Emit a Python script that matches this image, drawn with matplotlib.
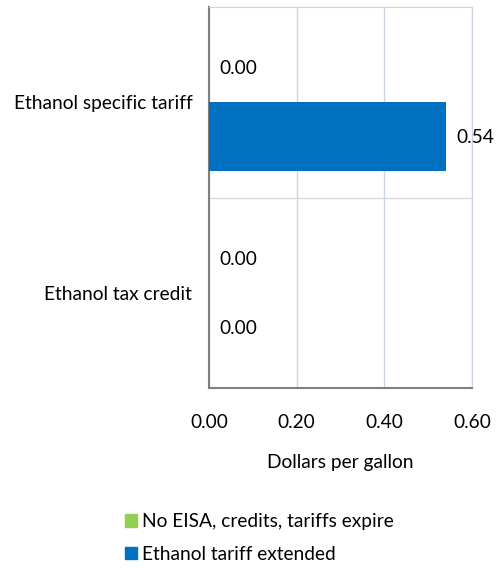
import matplotlib
matplotlib.use("Agg")
import matplotlib.pyplot as plt
import numpy as np
from matplotlib.patches import Patch

categories = ["Ethanol specific tariff", "Ethanol tax credit"]
series_names = ["No EISA, credits, tariffs expire", "Ethanol tariff extended"]
no_eisa = [0.00, 0.00]
tariff_ext = [0.54, 0.00]
xticks = [0.00, 0.20, 0.40, 0.60]
colors = ["#92D050", "#0070C0"]

plt.rcParams['font.family'] = ['Lato', 'DejaVu Sans']
FS = 13.8

fig = plt.figure(figsize=(4.96, 5.68), dpi=100)
ax = fig.add_axes([209/496, 1-388/568, (472-209)/496, (388-7)/568])

y = np.arange(len(categories))
h = 0.363
for i, (vals, c) in enumerate(zip([no_eisa, tariff_ext], colors)):
    pos = y + (i - 0.5) * h
    ax.barh(pos, vals, height=h, color=c, zorder=3)
    for p, v in zip(pos, vals):
        ax.annotate(f"{v:.2f}", (v, p), xytext=(10 if v == 0 else 11, -1),
                    textcoords="offset pixels",
                    va="center", ha="left", fontsize=FS, color="#000000")

ax.set_ylim(1.5, -0.5)
ax.set_xlim(0, 0.6)
ax.set_xticks(xticks)
ax.set_xticklabels([f"{t:.2f}" for t in xticks], fontsize=FS)
ax.set_yticks(y)
ax.set_yticklabels(categories, fontsize=FS)
ax.tick_params(length=0, pad=12)
ax.tick_params(axis='x', pad=19)
ax.set_yticks([0.5], minor=True)
ax.tick_params(which='minor', length=0)
ax.grid(axis='x', which='major', color="#C9D3EA", linewidth=1, zorder=0)
ax.grid(axis='y', which='minor', color="#D9D9D9", linewidth=1, zorder=0)
ax.grid(axis='y', which='major', visible=False)
for s in ['top', 'right']:
    ax.spines[s].set_color("#C9D3EA")
for s in ['left', 'bottom']:
    ax.spines[s].set_color("#7F7F7F")
    ax.spines[s].set_linewidth(1.5)
ax.set_xlabel("Dollars per gallon", fontsize=FS, labelpad=16)

handles = [Patch(color=c, label=n) for c, n in zip(colors, series_names)]
fig.legend(handles=handles, loc="upper left", bbox_to_anchor=(108/496, 1-496/568),
           frameon=False, fontsize=FS, handlelength=0.6, handleheight=0.6,
           handletextpad=0.25, labelspacing=0.8)

fig.savefig("out.png", dpi=100)
